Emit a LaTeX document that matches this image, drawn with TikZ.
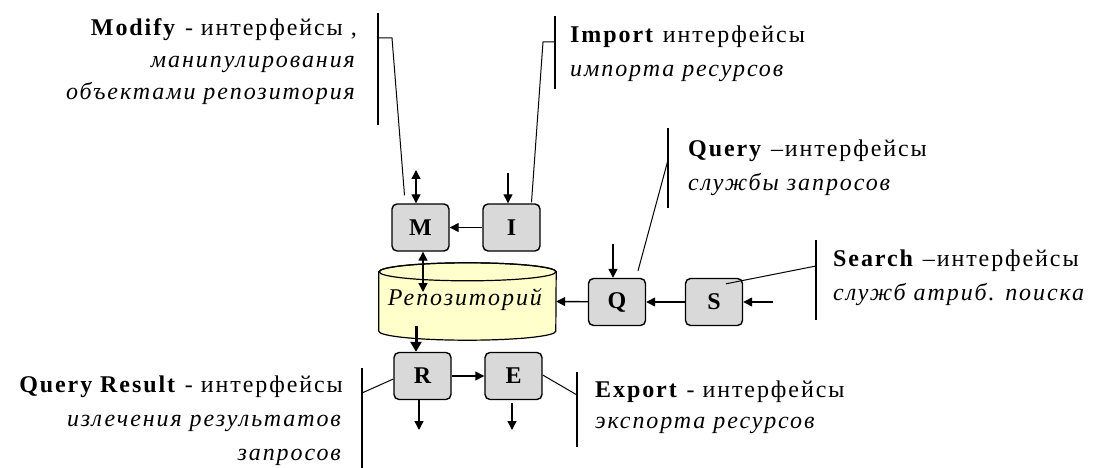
\documentclass[tikz,border=0pt]{standalone}
\usepackage{fontspec}
\setmainfont{Liberation Serif}[LetterSpace=8]
\usetikzlibrary{arrows.meta, calc}

\definecolor{boxgray}{RGB}{217,217,217}
\definecolor{repoyellow}{RGB}{255,255,204}

\begin{document}
\begin{tikzpicture}[
  x=1pt, y=1pt,
  font=\fontsize{24}{34}\selectfont,
  iface/.style={draw, line width=1.4pt, rounded corners=5pt, fill=boxgray,
                minimum width=57pt, minimum height=47pt, inner sep=0pt,
                font=\fontsize{24}{32}\selectfont\bfseries},
  flow/.style={-{Triangle[length=9pt, width=9pt]}, line width=1.4pt},
  both/.style={{Triangle[length=9pt, width=9pt]}-{Triangle[length=9pt, width=9pt]},
               line width=1.4pt},
  brace/.style={line width=1.2pt},
  callout/.style={line width=1pt},
  note/.style={align=#1, inner sep=0pt}
]
\useasboundingbox (0,0) rectangle (1096,-468);

%% ---------- interface boxes ----------
\node[iface] (M) at (420.5,-227.5) {M};
\node[iface] (I) at (511.5,-227.5) {I};
\node[iface] (Q) at (617,-302)     {Q};
\node[iface] (S) at (714,-302)     {S};
\node[iface] (R) at (422.5,-376)   {R};
\node[iface] (E) at (513.5,-376)   {E};

%% ---------- repository cylinder ----------
\node[minimum width=177pt, minimum height=77pt, inner sep=0pt] (repo)
  at (467.5,-301.5) {};
\filldraw[fill=repoyellow, line width=1.2pt]
  ($(repo.north west)+(0,-9)$) -- ($(repo.south west)+(0,9)$)
  arc[start angle=180, end angle=360, x radius=88.5, y radius=9]
  -- ($(repo.north east)+(0,-9)$)
  arc[start angle=0, end angle=180, x radius=88.5, y radius=9] -- cycle;
\draw[line width=1.2pt] ($(repo.north)+(0,-9)$) ellipse[x radius=88.5, y radius=9];
\node[font=\fontsize{24}{32}\selectfont\itshape] (repotxt) at (465,-300) {Репозиторий};

%% ---------- free ends of the flows ----------
\coordinate (min)  at (416,-170);
\coordinate (iin)  at (508,-173);
\coordinate (mrep) at (423,-292);
\coordinate (qin)  at (613,-244);
\coordinate (sin)  at (773,-302);
\coordinate (rtop) at (416,-326);
\coordinate (rout) at (419,-430);
\coordinate (eout) at (512,-430);

\draw[both] (min) -- (min |- M.north);
\draw[flow] (iin) -- (iin |- I.north);
\draw[flow] (I) -- (M);
\draw[both] (M.south -| mrep) -- (mrep);
\draw[flow] (Q) -- (repo.east);
\draw[flow] (S) -- (Q);
\draw[flow] (sin) -- (S.east);
\draw[flow] (qin) -- (qin |- Q.north);
\draw[-{Triangle[length=10pt, width=11pt]}, line width=3pt] (rtop) -- (rtop |- R.north);
\draw[flow] (R) -- (E);
\draw[flow] (R.south -| rout) -- (rout);
\draw[flow] ([yshift=-3pt]E.south -| eout) -- (eout);

%% ---------- labels ----------
\node[note=right, anchor=base east, font=\fontsize{24}{32}\selectfont] (modlbl) at (357,-100)
  {\textbf{Modify} - интерфейсы ,\\ \textit{манипулирования}\\ \textit{объектами репозитория}};
\node[note=left, anchor=base west] (implbl) at (570,-77)
  {\textbf{Import} интерфейсы\\ \textit{импорта ресурсов}};
\node[note=left, anchor=base west] (qlbl) at (688,-190)
  {\textbf{Query} –интерфейсы\\ \textit{службы запросов}};
\node[note=left, anchor=base west] (slbl) at (833,-300)
  {\textbf{Search} –интерфейсы\\ \textit{служб атриб. поиска}};
\node[note=right, anchor=base east] (qrlbl) at (343,-460)
  {\textbf{Query Result} - интерфейсы\\ \textit{излечения результатов}\\ \textit{запросов}};
\node[note=left, anchor=base west, font=\fontsize{24}{31}\selectfont] (explbl) at (595,-428)
  {\textbf{Export} - интерфейсы\\ \textit{экспорта ресурсов}};

%% ---------- callout brackets ----------
\draw[brace] (378,-13) -- (378,-125);
\draw[brace] (555,-16) -- (555,-89);
\draw[brace] (668,-128) -- (668,-208);
\draw[brace] (816,-240) -- (816,-320);
\draw[brace] (362,-368) -- (362,-468);
\draw[brace] (577,-372) -- (577,-447);

\coordinate (modtip) at (378,-38);
\coordinate (imptip) at (555,-42);
\coordinate (qtip)   at (668,-160);
\coordinate (stip)   at (816,-266);
\coordinate (qrtip)  at (362,-393);
\coordinate (exptip) at (577,-395);

\draw[callout] (modtip) -- ++(14,0) -- ([xshift=-16pt,yshift=8pt]M.north);
\draw[callout] (imptip) -- ++(-12,0) -- ([xshift=20pt,yshift=1pt]I.north);
\draw[callout] (qtip) -- ([xshift=21pt,yshift=7pt]Q.north);
\draw[callout] (stip) -- ([xshift=12pt,yshift=-6pt]S.north);
\draw[callout] (qrtip) -- ([yshift=-3pt]R.west);
\draw[callout] ([yshift=1pt]E.east) -- (exptip);
\end{tikzpicture}
\end{document}
